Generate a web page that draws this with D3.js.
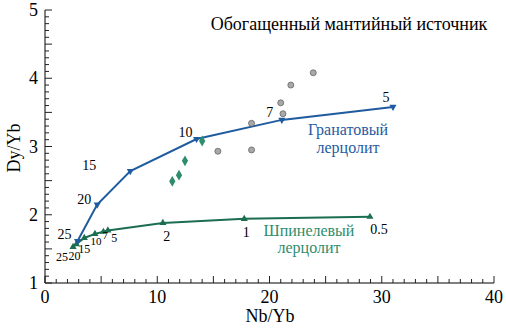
<!DOCTYPE html>
<html><head><meta charset="utf-8">
<script src="https://cdn.jsdelivr.net/npm/d3@7"></script>
<style>body{margin:0;background:#fff}svg{display:block}svg text{font-family:"Liberation Serif","Times New Roman",serif}</style>
</head><body><svg id="c" width="506" height="331"></svg>
<script>
// Garnet lherzolite melting curve
const garnetLabels = ["25","20","15","10","7","5"];
const garnetX = [2.9, 4.65, 7.6, 13.5, 21.1, 31.0];
const garnetY = [1.615, 2.15, 2.64, 3.11, 3.39, 3.58];
// Spinel lherzolite melting curve
const spinelLabels = ["25","20","15","10","7","5","2","1","0.5"];
const spinelX = [2.5, 2.8, 3.5, 4.45, 5.2, 5.6, 10.5, 17.75, 28.95];
const spinelY = [1.53, 1.57, 1.66, 1.72, 1.75, 1.77, 1.88, 1.94, 1.97];
// Samples
const circleX = [23.9, 21.9, 21.0, 21.2, 18.4, 15.4, 18.4];
const circleY = [4.08, 3.90, 3.64, 3.48, 3.34, 2.93, 2.95];
const diamondX = [14.0, 12.47, 11.94, 11.34];
const diamondY = [3.08, 2.79, 2.58, 2.49];
const xTicks = [0,10,20,30,40];
const yTicks = [1,2,3,4,5];

const blue = "#1f5b9f", green = "#1b6e4f", dgreen = "#2f8c6c";
const svg = d3.select("#c");
const x = d3.scaleLinear().domain([0,40]).range([45,494]);
const y = d3.scaleLinear().domain([1,5]).range([283,10]);

// axes
const gx = svg.append("g").attr("transform","translate(0,283)");
gx.append("line").attr("x1",x(0)).attr("x2",x(40)).attr("stroke","#000");
d3.range(0,41,1).forEach(v=>{
  gx.append("line").attr("x1",x(v)).attr("x2",x(v)).attr("y1",0).attr("y2",v%5===0?-7:-4).attr("stroke","#222");
});
xTicks.forEach(v=>gx.append("text").attr("x",x(v)).attr("y",20).attr("text-anchor","middle").attr("font-size",18).text(v));
const gy = svg.append("g").attr("transform","translate(45,0)");
gy.append("line").attr("y1",y(1)).attr("y2",y(5)).attr("stroke","#000");
d3.range(10,51,1).forEach(i=>{
  const v=i/10;
  gy.append("line").attr("x1",0).attr("x2",i%5===0?7:4).attr("y1",y(v)).attr("y2",y(v)).attr("stroke","#222");
});
yTicks.forEach(v=>gy.append("text").attr("x",-7).attr("y",y(v)+6).attr("text-anchor","end").attr("font-size",18).text(v));
svg.append("text").attr("x",270).attr("y",322).attr("text-anchor","middle").attr("font-size",18).text("Nb/Yb");
svg.append("text").attr("transform","translate(20,148) rotate(-90)").attr("text-anchor","middle").attr("font-size",18).text("Dy/Yb");

// title
svg.append("text").attr("x",349).attr("y",30).attr("text-anchor","middle").attr("font-size",18).text("Обогащенный мантийный источник");

// curves
const line = d3.line().x(d=>x(d[0])).y(d=>y(d[1]));
const g = garnetX.map((v,i)=>[v,garnetY[i]]);
const s = spinelX.map((v,i)=>[v,spinelY[i]]);
svg.append("path").attr("d",line(s)).attr("fill","none").attr("stroke",green).attr("stroke-width",2);
svg.append("path").attr("d",line(g)).attr("fill","none").attr("stroke",blue).attr("stroke-width",2);
const tri = d3.symbol().type(d3.symbolTriangle).size(22);
svg.selectAll(".st").data(s).join("path").attr("d",tri).attr("fill",green)
  .attr("transform",d=>`translate(${x(d[0])},${y(d[1])})`);
svg.selectAll(".gt").data(g).join("path").attr("d",tri).attr("fill",blue)
  .attr("transform",d=>`translate(${x(d[0])},${y(d[1])}) rotate(180)`);

// samples
svg.selectAll(".ci").data(circleX.map((v,i)=>[v,circleY[i]])).join("circle")
  .attr("cx",d=>x(d[0])).attr("cy",d=>y(d[1])).attr("r",3).attr("fill","#a8a8a8").attr("stroke","#666").attr("stroke-width",0.8);
const dia = d3.symbol().type(d3.symbolDiamond).size(34);
svg.selectAll(".di").data(diamondX.map((v,i)=>[v,diamondY[i]])).join("path").attr("d",dia).attr("fill",dgreen)
  .attr("transform",d=>`translate(${x(d[0])},${y(d[1])})`);

// point labels (offsets of label centre from its point, font size)
const gOff = [[-13,-7,14],[-13,-5,14],[-41,-6,14],[-11,-7,14],[-12,-8,14],[-7,-10,14]];
g.forEach((d,i)=>svg.append("text").attr("x",x(d[0])+gOff[i][0]).attr("y",y(d[1])+gOff[i][1]+gOff[i][2]*0.33).attr("text-anchor","middle").attr("font-size",gOff[i][2]).text(garnetLabels[i]));
const sOff = [[-11,10,12],[-2,12,12],[0,11,12],[1,8,11],[2,3.5,11],[6.5,7.5,12],[4,13,14],[2,14,14],[9,13,14]];
s.forEach((d,i)=>svg.append("text").attr("x",x(d[0])+sOff[i][0]).attr("y",y(d[1])+sOff[i][1]+sOff[i][2]*0.33).attr("text-anchor","middle").attr("font-size",sOff[i][2]).text(spinelLabels[i]));

// curve names
svg.append("text").attr("x",348).attr("y",135).attr("text-anchor","middle").attr("font-size",16).attr("fill",blue).text("Гранатовый");
svg.append("text").attr("x",348).attr("y",153).attr("text-anchor","middle").attr("font-size",16).attr("fill",blue).text("лерцолит");
svg.append("text").attr("x",309).attr("y",236).attr("text-anchor","middle").attr("font-size",16).attr("fill",dgreen).text("Шпинелевый");
svg.append("text").attr("x",309).attr("y",253).attr("text-anchor","middle").attr("font-size",16).attr("fill",dgreen).text("лерцолит");
</script></body></html>
